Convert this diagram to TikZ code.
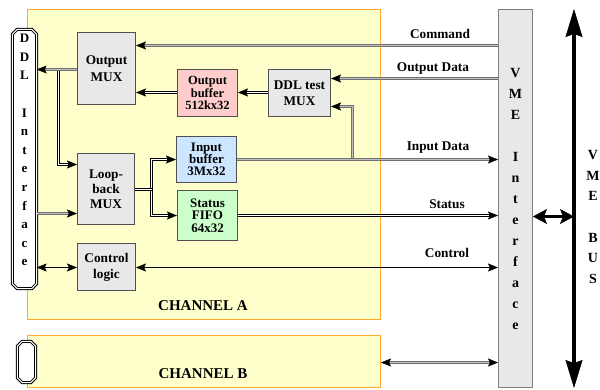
\documentclass[tikz,border=0pt]{standalone}
\usepackage{fontspec}
\setmainfont{Liberation Serif}
\usetikzlibrary{arrows.meta}

\definecolor{chfill}{HTML}{FFFFCC}
\definecolor{chdraw}{HTML}{FFAA33}
\definecolor{boxgray}{HTML}{E8E8E8}
\definecolor{boxdraw}{HTML}{505050}
\definecolor{pinkfill}{HTML}{FFCCCC}
\definecolor{bluefill}{HTML}{CCE6FF}
\definecolor{greenfill}{HTML}{CCFFCC}
\definecolor{glinec}{HTML}{707070}
\definecolor{ginner}{HTML}{C0C0C0}

\tikzset{
  channel/.style={draw=chdraw, fill=chfill, line width=1pt, inner sep=0pt},
  blockbox/.style={draw=boxdraw, line width=1pt, align=center, inner sep=0pt,
    font=\bfseries\fontsize{13.3}{16}\selectfont},
  ifspot/.style={inner sep=0pt},
  dblborder/.style={draw=black, fill=white, line width=3pt,
    postaction={draw=white, line width=1pt}},
  lbl/.style={font=\bfseries\fontsize{13.3}{15}\selectfont, inner sep=0pt},
  glineS/.style={draw=glinec, line width=3pt,
    postaction={draw=ginner, line width=1pt, arrows=-, shorten >=#1}},
  glineS/.default=0pt,
  glineB/.style={draw=glinec, line width=3pt,
    postaction={draw=ginner, line width=1pt, arrows=-, shorten >=9pt, shorten <=9pt}},
  blineS/.style={draw=black, line width=3pt,
    postaction={draw=white, line width=1pt, arrows=-, shorten >=#1}},
  blineS/.default=0pt,
  slineS/.style={draw=black, line width=1.3pt},
  toarr/.style={-{Stealth[length=10pt,width=8pt,inset=2pt,color=black,line width=0.5pt]}},
  botharr/.style={{Stealth[length=10pt,width=8pt,inset=2pt,color=black,line width=0.5pt]}-{Stealth[length=10pt,width=8pt,inset=2pt,color=black,line width=0.5pt]}},
}

\begin{document}
\begin{tikzpicture}[x=1pt,y=-1pt]
\useasboundingbox (0,0) rectangle (600,389);

% channels
\node[channel, minimum width=353pt, minimum height=310pt] (chA) at (204,164.5) {};
\node[channel, minimum width=353pt, minimum height=52pt] (chB) at (204,361.5) {};
\node[lbl, font=\bfseries\fontsize{15}{17}\selectfont] (chAlbl) at (203,306) {CHANNEL A};
\node[lbl, font=\bfseries\fontsize{15}{17}\selectfont] (chBlbl) at (203,374) {CHANNEL B};

% DDL interfaces (chamfered double outline)
\node[ifspot, minimum width=24pt, minimum height=259pt] (ddl) at (24.5,159) {};
\draw[dblborder] ([xshift=5pt]ddl.north west) -- ([xshift=-5pt]ddl.north east) -- ([yshift=-5pt]ddl.north east)
  -- ([yshift=5pt]ddl.south east) -- ([xshift=-5pt]ddl.south east) -- ([xshift=5pt]ddl.south west)
  -- ([yshift=5pt]ddl.south west) -- ([yshift=-5pt]ddl.north west) -- cycle;
\node[align=center, inner sep=0pt, font=\bfseries\fontsize{13}{18.6}\selectfont] (ddltxt) at (24.5,150)
  {D\\D\\L\\[18.6pt]I\\n\\t\\e\\r\\f\\a\\c\\e};
\node[ifspot, minimum width=18pt, minimum height=41pt] (ddlB) at (26.5,362) {};
\draw[dblborder] ([xshift=5pt]ddlB.north west) -- ([xshift=-5pt]ddlB.north east) -- ([yshift=-5pt]ddlB.north east)
  -- ([yshift=5pt]ddlB.south east) -- ([xshift=-5pt]ddlB.south east) -- ([xshift=5pt]ddlB.south west)
  -- ([yshift=5pt]ddlB.south west) -- ([yshift=-5pt]ddlB.north west) -- cycle;

% blocks
\node[blockbox, fill=boxgray, minimum width=58pt, minimum height=72pt, font=\bfseries\fontsize{13.3}{17}\selectfont] (omux) at (106.5,68.5) {Output\\MUX};
\node[blockbox, fill=pinkfill, minimum width=60pt, minimum height=47pt, font=\bfseries\fontsize{12.5}{12.5}\selectfont] (obuf) at (207.5,93) {Output\\buffer\\512kx32};
\node[blockbox, fill=boxgray, minimum width=62pt, minimum height=47pt] (dmux) at (299.5,93) {DDL test\\MUX};
\node[blockbox, fill=bluefill, minimum width=60pt, minimum height=46pt, font=\bfseries\fontsize{13}{12.3}\selectfont] (ibuf) at (206.5,159.5) {Input\\buffer\\3Mx32};
\node[blockbox, fill=greenfill, minimum width=60pt, minimum height=50pt, font=\bfseries\fontsize{13}{12.3}\selectfont] (sfifo) at (207.5,215.5) {Status\\FIFO\\64x32};
\node[blockbox, fill=boxgray, minimum width=57pt, minimum height=71pt, font=\bfseries\fontsize{13.3}{15}\selectfont] (lmux) at (106,189) {Loop-\\back\\MUX};
\node[blockbox, fill=boxgray, minimum width=58pt, minimum height=47pt] (ctrl) at (106.5,267) {Control\\logic};

% VME interface
\node[draw=gray, fill=boxgray, line width=1pt, minimum width=34pt, minimum height=378pt, inner sep=0pt,
  align=center, font=\bfseries\fontsize{14}{21}\selectfont] (vme) at (515.5,198.5)
  {V\\M\\E\\[21pt]I\\n\\t\\e\\r\\f\\a\\c\\e};

% VME bus
\coordinate (busTop) at (574,9);
\coordinate (busBot) at (574,388);
\coordinate (busMid) at (574,216.5);
\draw[line width=4pt, {Stealth[length=28pt,width=17pt,inset=3pt,line width=0.5pt]}-{Stealth[length=28pt,width=17pt,inset=3pt,line width=0.5pt]}] (busTop) -- (busBot);
\node[align=center, inner sep=0pt, font=\bfseries\fontsize{14}{20.7}\selectfont] (bustxt) at (593,217)
  {V\\M\\E\\[20.7pt]B\\U\\S};
\draw[line width=3pt, {Stealth[length=14pt,width=15pt,inset=3pt,line width=0.5pt]}-{Stealth[length=14pt,width=15pt,inset=3pt,line width=0.5pt]}] (vme.east |- busMid) -- (busMid);

% junction coordinates
\coordinate (jout) at (58.5,69.5);
\coordinate (jlb) at (58.5,164.5);
\coordinate (jin) at (352.5,159.5);
\coordinate (jsplit) at (151.5,189.5);

% connectors to / from VME
\draw[glineS=9pt, toarr] (vme.west |- 0,45.5) -- (omux.east |- 0,45.5);
\node[lbl] (lcmd) at (440,34) {Command};
\draw[glineS=9pt, toarr] (vme.west |- 0,78.5) -- (dmux.east |- 0,78.5);
\node[lbl] (lod) at (433,68.5) {Output Data};
\draw[glineS=9pt, toarr] (jin) -- (jin |- 0,106.5) -- (dmux.east |- 0,106.5);
\draw[glineS=9pt, toarr] (ibuf.east |- jin) -- (vme.west |- jin);
\node[lbl] (lid) at (438,148) {Input Data};
\draw[blineS=9pt, toarr] (sfifo.east) -- (vme.west |- sfifo.east);
\node[lbl] (lst) at (447,204) {Status};
\draw[slineS, botharr] (ctrl.east |- 0,267.5) -- (vme.west |- 0,267.5);
\node[lbl] (lct) at (447,253) {Control};
\draw[glineB, botharr] (chB.east |- 0,362.5) -- (vme.west |- 0,362.5);

% internal connectors
\draw[blineS=9pt, toarr] (jout) -- (jlb) -- (lmux.west |- jlb);
\draw[glineS=9pt, toarr] (omux.west |- jout) -- (ddl.east |- jout);
\draw[glineS=9pt, toarr] (ddl.east |- 0,213.5) -- (lmux.west |- 0,213.5);
\draw[slineS, botharr] (ddl.east |- 0,267.5) -- (ctrl.west |- 0,267.5);
\draw[blineS=9pt, toarr] (obuf.west |- 0,92.5) -- (omux.east |- 0,92.5);
\draw[blineS=9pt, toarr] (dmux.west |- 0,92.5) -- (obuf.east |- 0,92.5);
\draw[blineS=9pt, toarr] (jsplit) -- (jsplit |- ibuf.west) -- (ibuf.west);
\draw[blineS=9pt, toarr] (jsplit) -- (jsplit |- sfifo.west) -- (sfifo.west);
\draw[blineS] (lmux.east |- jsplit) -- (jsplit);
\end{tikzpicture}
\end{document}
